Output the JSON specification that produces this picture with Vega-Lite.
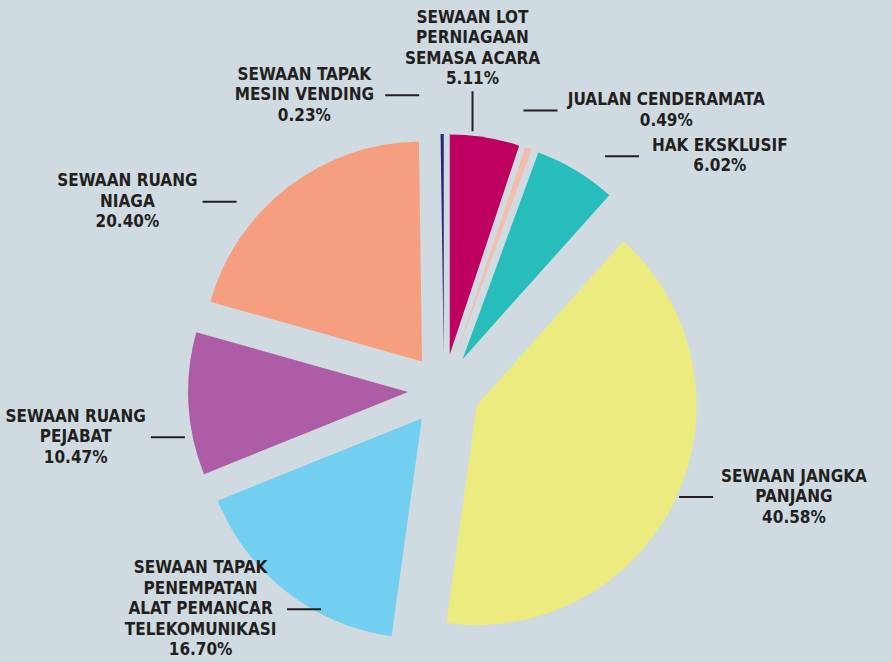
{
  "$schema": "https://vega.github.io/schema/vega-lite/v6.json",
  "width": 892,
  "height": 662,
  "padding": 0,
  "autosize": {"type": "none"},
  "background": "#cfdbe0",
  "config": {"view": {"stroke": null}},
  "data": {
    "values": [
      {"label": "SEWAAN LOT\nPERNIAGAAN\nSEMASA ACARA", "value": 5.11},
      {"label": "JUALAN CENDERAMATA", "value": 0.49},
      {"label": "HAK EKSKLUSIF", "value": 6.02},
      {"label": "SEWAAN JANGKA\nPANJANG", "value": 40.58},
      {"label": "SEWAAN TAPAK\nPENEMPATAN\nALAT PEMANCAR\nTELEKOMUNIKASI", "value": 16.70},
      {"label": "SEWAAN RUANG\nPEJABAT", "value": 10.47},
      {"label": "SEWAAN RUANG\nNIAGA", "value": 20.40},
      {"label": "SEWAAN TAPAK\nMESIN VENDING", "value": 0.23}
    ]
  },
  "transform": [
    {"window": [{"op": "sum", "field": "value", "as": "cum"}], "frame": [null, 0]},
    {"calculate": "max(datum.value, 5)", "as": "sv"},
    {"window": [{"op": "sum", "field": "sv", "as": "scum"}], "frame": [null, 0]},
    {"joinaggregate": [{"op": "sum", "field": "sv", "as": "stot"}]},
    {"calculate": "datum.cum - datum.value", "as": "start"},
    {"calculate": "(datum.cum - datum.value / 2) / 100 * 2 * PI", "as": "mid"},
    {"calculate": "(datum.scum - datum.sv / 2) / datum.stot * 2 * PI - 3 * PI / 180", "as": "la"},
    {"calculate": "36 * sin(datum.mid)", "as": "cx"},
    {"calculate": "-36 * cos(datum.mid)", "as": "cy"},
    {"calculate": "abs(sin(datum.la)) < 0.15", "as": "top"},
    {"calculate": "sin(datum.la) >= 0 ? 1 : -1", "as": "side"},
    {"calculate": "302 * sin(datum.la)", "as": "px"},
    {"calculate": "-20 - 280 * cos(datum.la)", "as": "py"}
  ],
  "layer": [
    {
      "mark": {"type": "arc", "outerRadius": 220, "innerRadius": 0},
      "encoding": {
        "theta": {"field": "start", "type": "quantitative", "stack": null, "scale": {"domain": [0, 100], "range": [0, 6.283185307179586]}},
        "theta2": {"field": "cum"},
        "x": {"field": "cx", "type": "quantitative", "scale": {"domain": [-444, 448], "nice": false, "zero": false}, "axis": null},
        "y": {"field": "cy", "type": "quantitative", "scale": {"domain": [-390, 272], "reverse": true, "nice": false, "zero": false}, "axis": null},
        "color": {
          "field": "label",
          "type": "nominal",
          "scale": {
            "domain": ["SEWAAN LOT\nPERNIAGAAN\nSEMASA ACARA", "JUALAN CENDERAMATA", "HAK EKSKLUSIF", "SEWAAN JANGKA\nPANJANG", "SEWAAN TAPAK\nPENEMPATAN\nALAT PEMANCAR\nTELEKOMUNIKASI", "SEWAAN RUANG\nPEJABAT", "SEWAAN RUANG\nNIAGA", "SEWAAN TAPAK\nMESIN VENDING"],
            "range": ["#be0060", "#f4bcaa", "#26bdbb", "#ebeb80", "#72cff0", "#ae5ca6", "#f69e80", "#2a2878"]
          },
          "legend": null
        }
      }
    },
    {
      "transform": [
        {"calculate": "datum.top ? datum.px : datum.px - datum.side * 34", "as": "lx"},
        {"calculate": "datum.top ? datum.py + 40 : datum.py", "as": "ly"}
      ],
      "mark": {"type": "rule", "color": "#231f20", "strokeWidth": 2},
      "encoding": {
        "x": {"field": "lx", "type": "quantitative", "scale": {"domain": [-444, 448], "nice": false, "zero": false}, "axis": null},
        "x2": {"field": "px"},
        "y": {"field": "ly", "type": "quantitative", "scale": {"domain": [-390, 272], "reverse": true, "nice": false, "zero": false}, "axis": null},
        "y2": {"field": "py"}
      }
    },
    {
      "transform": [
        {"calculate": "split(datum.label + '\\n' + format(datum.value, '.2f') + '%', '\\n')", "as": "lines"},
        {"flatten": ["lines"], "as": ["line"]},
        {"window": [{"op": "row_number", "as": "li"}], "groupby": ["label"]},
        {"calculate": "length(datum.line)", "as": "len"},
        {"joinaggregate": [{"op": "count", "as": "n"}, {"op": "max", "field": "len", "as": "maxlen"}], "groupby": ["label"]},
        {"calculate": "datum.top ? datum.px : datum.px + datum.side * (8 + datum.maxlen * 5.6)", "as": "tx"},
        {"calculate": "datum.top ? datum.py - 12 - (datum.n - datum.li) * 20.5 : datum.py + (datum.li - (datum.n + 1) / 2) * 20.5", "as": "ty"}
      ],
      "mark": {"type": "text", "font": "DejaVu Sans Condensed", "fontWeight": "bold", "fontSize": 17, "color": "#231f20", "align": "center", "baseline": "middle"},
      "encoding": {
        "x": {"field": "tx", "type": "quantitative", "scale": {"domain": [-444, 448], "nice": false, "zero": false}, "axis": null},
        "y": {"field": "ty", "type": "quantitative", "scale": {"domain": [-390, 272], "reverse": true, "nice": false, "zero": false}, "axis": null},
        "text": {"field": "line"}
      }
    }
  ]
}
